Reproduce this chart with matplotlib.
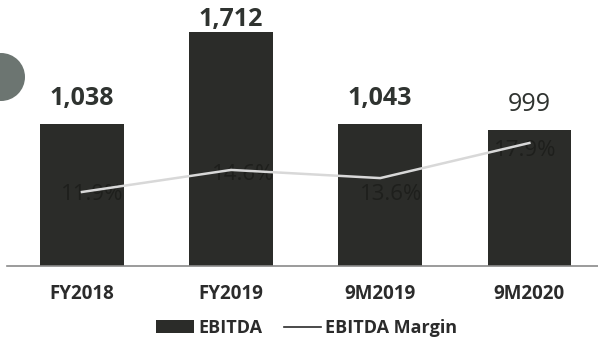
import matplotlib
matplotlib.use("Agg")
import matplotlib.pyplot as plt
from matplotlib.patches import Ellipse, Patch
from matplotlib.lines import Line2D

periods = ["FY2018", "FY2019", "9M2019", "9M2020"]
ebitda = [1038, 1712, 1043, 999]
ebitda_labels = ["1,038", "1,712", "1,043", "999"]
label_bold = [True, True, True, False]
margin = [11.9, 14.6, 13.6, 17.9]

plt.rcParams["font.family"] = ["Open Sans", "DejaVu Sans"]

W, H = 598, 343
fig = plt.figure(figsize=(W / 100, H / 100), dpi=100)
fig.patch.set_facecolor("white")

ax_left = 7.35 / W
ax_bottom = (H - 266) / H
ax = fig.add_axes([ax_left, ax_bottom, 1 - ax_left, 1 - ax_bottom])
ax.set_facecolor("none")

x = list(range(len(periods)))
ax.bar(x, ebitda, width=0.56, color="#2b2c29", edgecolor="none", zorder=2)
ax.set_xlim(-0.5, 3.46)
ax.set_ylim(0, 1949)

label_gap = [95, 0, 95, 95]
for xi, v, lab, b, g in zip(x, ebitda, ebitda_labels, label_bold, label_gap):
    ax.text(xi, v + g, lab, ha="center", va="bottom", fontsize=18,
            fontweight="bold" if b else "normal", color="#2f3330", zorder=4)

for s in ["top", "right", "left"]:
    ax.spines[s].set_visible(False)
ax.spines["bottom"].set_color("#8a8a8a")
ax.spines["bottom"].set_linewidth(1.2)
ax.set_yticks([])
ax.set_xticks(x)
ax.set_xticklabels(periods, fontsize=13.5, fontweight="bold", color="#2b2b2b")
ax.tick_params(axis="x", length=0, pad=13)

# EBITDA margin on a secondary scale
ax2 = ax.twinx()
ax2.set_ylim(2.84, 35.4)
ax2.set_yticks([])
for s in ax2.spines.values():
    s.set_visible(False)
ax2.plot(x, margin, color="#d8d8d8", linewidth=1.8, zorder=3)
offsets = [(0.07, -0.3), (0.08, -0.6), (0.07, -2.0), (-0.03, -0.9)]
for xi, m, (dx, dy) in zip(x, margin, offsets):
    ax2.text(xi + dx, m + dy, f"{m:.1f}%", ha="center", va="center",
             fontsize=16, color="#1e1f1c", zorder=2)

# Legend
handles = [Patch(facecolor="#2b2c29", edgecolor="none"),
           Line2D([0], [0], color="#2b2b2b", linewidth=1.2)]
leg = fig.legend(handles, ["EBITDA", "EBITDA Margin"], loc="center",
                 bbox_to_anchor=(0.513, (H - 328) / H), ncol=2, frameon=False,
                 prop={"size": 13, "weight": "bold"}, handlelength=2.1,
                 handleheight=0.7, handletextpad=0.2, columnspacing=1.2)
for t in leg.get_texts():
    t.set_color("#2b2b2b")

# Decorative marker on the left edge
fig.patches.append(Ellipse((1 / W, (H - 77) / H), 48 / W, 48 / H,
                           transform=fig.transFigure,
                           facecolor="#6c7571", edgecolor="none"))

fig.savefig("out.png", dpi=100, facecolor="white")
